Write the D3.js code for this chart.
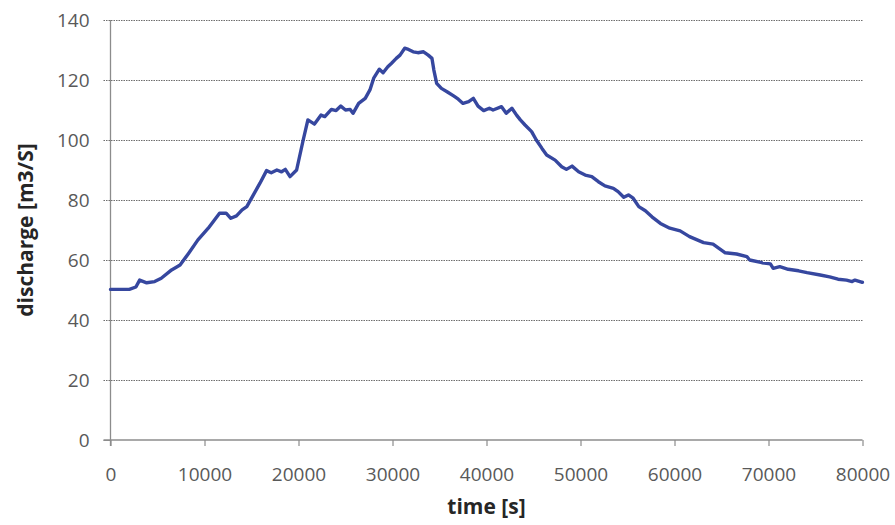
<!DOCTYPE html>
<html>
<head>
<meta charset="utf-8">
<script src="https://cdn.jsdelivr.net/npm/d3@7/dist/d3.min.js"></script>
<style>
  html, body { margin: 0; padding: 0; background: #ffffff; }
  svg { display: block; }
</style>
</head>
<body>
<svg id="chart" width="895" height="525"></svg>
<script>
const timeSeconds = [
  0, 2000, 2700, 3100, 3850, 4700, 5400, 6500, 7400, 8300,
  9300, 10400, 11600, 12300, 12800, 13400, 14000, 14500, 15200, 15900,
  16600, 17100, 17700, 18200, 18600, 19100, 19800, 20500, 21000, 21700,
  22400, 22800, 23500, 24000, 24500, 25000, 25500, 25800, 26400, 27100,
  27600, 28000, 28600, 29000, 29500, 29900, 30400, 30800, 31300, 31700,
  32200, 32700, 33300, 33800, 34200, 34400, 34700, 35200, 35800, 36500,
  37000, 37500, 38100, 38600, 39100, 39700, 40300, 40700, 41600, 42100,
  42700, 43200, 43600, 44100, 44800, 45300, 45900, 46400, 47300, 48000,
  48500, 49100, 49800, 50500, 51200, 51900, 52600, 53500, 54000, 54600,
  55100, 55600, 56200, 56900, 57600, 58500, 59500, 60600, 61600, 63100,
  64100, 65400, 66600, 67700, 68000, 69300, 70200, 70500, 71200, 72100,
  73200, 74100, 75500, 76500, 77400, 78300, 78900, 79200, 79900, 80000
];
const discharge = [
  50.2, 50.2, 51, 53.3, 52.4, 52.8, 53.9, 56.7, 58.3, 62.2,
  66.7, 70.6, 75.6, 75.6, 73.9, 74.7, 76.7, 77.8, 81.7, 85.6,
  89.8, 89.1, 90, 89.4, 90.2, 87.8, 90, 100, 106.7, 105.3,
  108.3, 107.8, 110.2, 109.8, 111.3, 110, 110.2, 108.9, 112.2, 113.9,
  116.7, 120.6, 123.6, 122.4, 124.4, 125.6, 127.2, 128.3, 130.6, 130.2,
  129.4, 129.1, 129.4, 128.3, 127.2, 123.3, 118.9, 117.2, 116.1, 114.7,
  113.6, 112.2, 112.8, 113.9, 111.3, 109.8, 110.6, 110, 111.1, 108.9,
  110.6, 108.3, 106.7, 105, 102.8, 100, 97.2, 95, 93.3, 91.1,
  90.2, 91.3, 89.4, 88.3, 87.8, 86.1, 84.7, 83.9, 82.8, 80.9,
  81.7, 80.6, 77.8, 76.4, 74.4, 72.2, 70.6, 69.7, 67.8, 65.8,
  65.3, 62.4, 62, 61.1, 60, 59.1, 58.7, 57.2, 57.8, 56.9,
  56.4, 55.8, 55, 54.4, 53.6, 53.3, 52.8, 53.3, 52.6, 52.6
];
const xTicks = [0, 10000, 20000, 30000, 40000, 50000, 60000, 70000, 80000];
const yTicks = [0, 20, 40, 60, 80, 100, 120, 140];
const xTitle = "time [s]";
const yTitle = "discharge [m3/S]";

const svg = d3.select("#chart");
const plotLeft = 110.5, plotRight = 862.5, plotTop = 20, plotBottom = 440;

const x = d3.scaleLinear().domain([0, 80000]).range([plotLeft, plotRight]);
const y = d3.scaleLinear().domain([0, 140]).range([plotBottom, plotTop]);

const axisColor = "#8c8c8c";
const labelColor = "#595959";
const font = "'Open Sans', 'DejaVu Sans', sans-serif";

// gridlines
svg.append("g")
  .selectAll("line")
  .data(yTicks.filter(d => d > 0))
  .join("line")
  .attr("x1", plotLeft - 7).attr("x2", plotRight)
  .attr("y1", d => Math.round(y(d)) + 0.5).attr("y2", d => Math.round(y(d)) + 0.5)
  .attr("stroke", "#6e6e6e")
  .attr("stroke-width", 1)
  .attr("stroke-dasharray", "1.5,1");

// y axis
const yAxis = d3.axisLeft(y).tickValues(yTicks).tickSize(7).tickPadding(14).tickFormat(d3.format("d"));
const gy = svg.append("g").attr("transform", `translate(${plotLeft},0)`).call(yAxis);
gy.select(".domain").attr("stroke", axisColor).attr("stroke-width", 1.3).attr("d", `M0,${plotTop}V${plotBottom + 6}`);
gy.selectAll(".tick line").attr("stroke", d => d === 0 ? axisColor : "none");
gy.selectAll(".tick text")
  .attr("fill", labelColor)
  .style("font-family", font)
  .style("font-size", "19px");

// x axis
const xAxis = d3.axisBottom(x).tickValues(xTicks).tickSize(6).tickPadding(22).tickFormat(d3.format("d"));
const gx = svg.append("g").attr("transform", `translate(0,${plotBottom})`).call(xAxis);
gx.select(".domain").attr("stroke", axisColor).attr("stroke-width", 1.3).attr("d", `M${plotLeft - 7},0H${plotRight}`);
gx.selectAll(".tick line").attr("stroke", axisColor).attr("stroke-width", 1.2);
gx.selectAll(".tick text")
  .attr("fill", labelColor)
  .style("font-family", font)
  .style("font-size", "19px");

// line
const points = timeSeconds.map((t, i) => [t, discharge[i]]);
svg.append("path")
  .datum(points)
  .attr("fill", "none")
  .attr("stroke", "#36479f")
  .attr("stroke-width", 3.4)
  .attr("stroke-linejoin", "round")
  .attr("stroke-linecap", "round")
  .attr("d", d3.line().x(d => x(d[0])).y(d => y(d[1])));

// titles
svg.append("text")
  .attr("x", (plotLeft + plotRight) / 2)
  .attr("y", 508)
  .attr("text-anchor", "middle")
  .attr("dominant-baseline", "middle")
  .attr("fill", "#262626")
  .style("font-family", font)
  .style("font-weight", "bold")
  .style("font-size", "21px")
  .text(xTitle);

svg.append("text")
  .attr("transform", `translate(27,${(plotTop + plotBottom) / 2}) rotate(-90)`)
  .attr("text-anchor", "middle")
  .attr("dominant-baseline", "middle")
  .attr("fill", "#262626")
  .style("font-family", font)
  .style("font-weight", "bold")
  .style("font-size", "21px")
  .text(yTitle);
</script>
</body>
</html>
